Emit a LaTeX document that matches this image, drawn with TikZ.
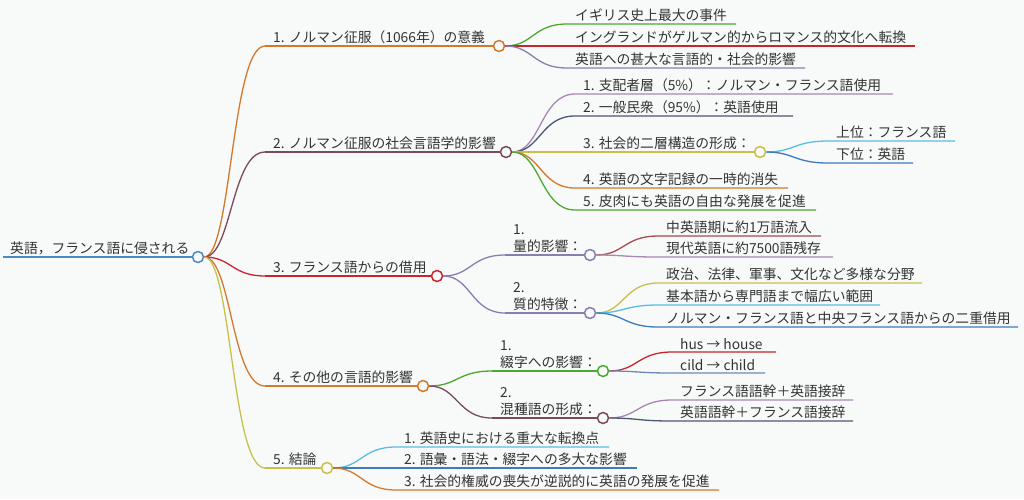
\documentclass[tikz,border=0pt]{standalone}
\usepackage{fontspec}
\setmainfont{Noto Sans CJK JP}
\usepackage{xcolor}
\usetikzlibrary{calc}

\definecolor{hg}{HTML}{F8FAFA}
\definecolor{schrift}{HTML}{333333}
\definecolor{wbl}{HTML}{4A8AC4}
\definecolor{ora}{HTML}{D4782A}
\definecolor{brn}{HTML}{7B4A5C}
\definecolor{rot}{HTML}{C8262C}
\definecolor{oli}{HTML}{C8C048}
\definecolor{gru}{HTML}{4CA82E}
\definecolor{lil}{HTML}{8A7EB0}
\definecolor{mau}{HTML}{A888B0}
\definecolor{sch}{HTML}{4C5870}
\definecolor{hbl}{HTML}{5BBCE4}
\definecolor{bla}{HTML}{3C7CB8}
\definecolor{dro}{HTML}{A84A4A}
\definecolor{sbl}{HTML}{7088B8}

\begin{document}
\begin{tikzpicture}[x=1pt,y=-1pt,
  ast/.style={line width=1.3pt},
  punkt/.style={circle,draw=#1,fill=hg,line width=1.5pt,minimum size=11pt,inner sep=0pt},
  txt/.style={anchor=south west,inner sep=0pt,yshift=2pt,text=schrift,font=\fontsize{13.8}{17}\selectfont,align=left}]

%Hintergrund
\fill[hg] (0,0) rectangle (1024,499);
\useasboundingbox (0,0) rectangle (1024,499);

%Blatt: Eltern, Name, Farbe, x Anfang, x Ende, y, Text
\newcommand\blatt[7]{%
  \coordinate (#2s) at (#4,#6);
  \coordinate (#2e) at (#5,#6);
  \coordinate (#2m) at ($(#1.center)!0.5!(#2s)$);
  \draw[ast,#3] (#1) .. controls (#2m |- #1.center) and (#2m |- #2s) .. (#2s) -- (#2e);
  \node[txt] (#2t) at ([xshift=8pt]#2s) {#7};
}
%Knoten mit Kreis: Eltern, Name, Farbe, x Anfang, x Kreis, y, Text
\newcommand\knoten[7]{%
  \coordinate (#2s) at (#4,#6);
  \coordinate (#2m) at ($(#1.center)!0.5!(#2s)$);
  \draw[ast,#3] (#1) .. controls (#2m |- #1.center) and (#2m |- #2s) .. (#2s);
  \node[punkt=#3] (#2) at (#5,#6) {};
  \draw[ast,#3] (#2s) -- (#2);
  \node[txt] (#2t) at ([xshift=8pt]#2s) {#7};
}

%Wurzel
\coordinate (ws) at (3,257);
\node[punkt=wbl] (w) at (198,257) {};
\draw[ast,wbl] (ws) -- (w);
\node[txt] (wt) at ([xshift=7pt]ws) {英語，フランス語に侵される};

%erste Ebene
\knoten{w}{a}{ora}{265}{499}{46}{1. ノルマン征服（1066年）の意義}
\knoten{w}{b}{brn}{265}{506}{152}{2. ノルマン征服の社会言語学的影響}
\knoten{w}{c}{rot}{265}{437}{276}{3. フランス語からの借用}
\knoten{w}{d}{ora}{265}{423}{386}{4. その他の言語的影響}
\knoten{w}{e}{oli}{265}{327}{468}{5. 結論}

%1. Bedeutung
\blatt{a}{aa}{gru}{567}{736}{24}{イギリス史上最大の事件}
\blatt{a}{ab}{rot}{567}{915}{46}{イングランドがゲルマン的からロマンス的文化へ転換}
\blatt{a}{ac}{lil}{567}{805}{68}{英語への甚大な言語的・社会的影響}

%2. soziolinguistisch
\blatt{b}{ba}{mau}{575}{893}{94}{1. 支配者層（5\%）：ノルマン・フランス語使用}
\blatt{b}{bb}{sch}{575}{793}{116}{2. 一般民衆（95\%）：英語使用}
\knoten{b}{bc}{oli}{575}{760}{152}{3. 社会的二層構造の形成：}
\blatt{b}{bd}{ora}{575}{788}{188}{4. 英語の文字記録の一時的消失}
\blatt{b}{be}{gru}{575}{816}{210}{5. 皮肉にも英語の自由な発展を促進}
\blatt{bc}{bca}{hbl}{828}{955}{141}{上位：フランス語}
\blatt{bc}{bcb}{bla}{828}{913}{163}{下位：英語}

%3. Entlehnung
\knoten{c}{ca}{lil}{505}{590}{255}{1.\\量的影響：}
\knoten{c}{cb}{lil}{505}{590}{313}{2.\\質的特徴：}
\blatt{ca}{caa}{dro}{658}{821}{236}{中英語期に約1万語流入}
\blatt{ca}{cab}{mau}{658}{833}{257}{現代英語に約7500語残存}
\blatt{cb}{cba}{oli}{658}{922}{283}{政治、法律、軍事、文化など多様な分野}
\blatt{cb}{cbb}{hbl}{658}{880}{305}{基本語から専門語まで幅広い範囲}
\blatt{cb}{cbc}{bla}{658}{1018}{327}{ノルマン・フランス語と中央フランス語からの二重借用}

%4. andere Einfluesse
\knoten{d}{da}{gru}{492}{603}{371}{1.\\綴字への影響：}
\knoten{d}{db}{brn}{492}{603}{418}{2.\\混種語の形成：}
\blatt{da}{daa}{rot}{672}{776}{352}{hus → house}
\blatt{da}{dab}{sbl}{672}{765}{373}{cild → child}
\blatt{db}{dba}{mau}{672}{853}{400}{フランス語語幹＋英語接辞}
\blatt{db}{dbb}{sch}{672}{853}{421}{英語語幹＋フランス語接辞}

%5. Schluss
\blatt{e}{ea}{hbl}{396}{609}{447}{1. 英語史における重大な転換点}
\blatt{e}{eb}{bla}{396}{637}{468}{2. 語彙・語法・綴字への多大な影響}
\blatt{e}{ec}{ora}{396}{719}{490}{3. 社会的権威の喪失が逆説的に英語の発展を促進}

\end{tikzpicture}
\end{document}
